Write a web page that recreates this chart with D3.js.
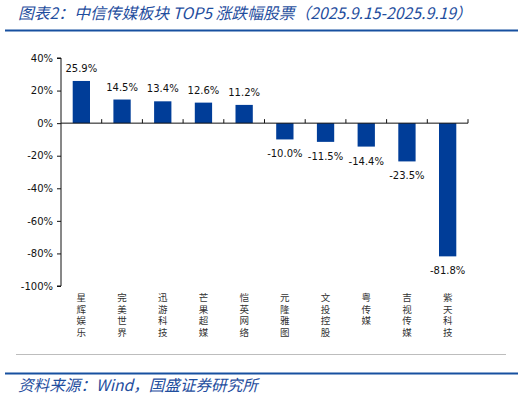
<!DOCTYPE html>
<html>
<head>
<meta charset="utf-8">
<script src="https://cdn.jsdelivr.net/npm/d3@7"></script>
<style>
  body { margin: 0; background: #fff; }
  svg { display: block; }
  .num { font-family: "DejaVu Sans", Verdana, sans-serif; font-size: 10px; fill: #111; }
  .cat { font-family: "Noto Sans CJK SC", sans-serif; font-size: 9.5px; fill: #333; }
  .head { font-family: "Noto Sans CJK SC", sans-serif; font-style: italic; fill: #1f4e9e; }
</style>
</head>
<body>
<script>
var categories = ["星辉娱乐", "完美世界", "迅游科技", "芒果超媒", "恺英网络",
                  "元隆雅图", "文投控股", "粤传媒", "吉视传媒", "紫天科技"];
var values = [25.9, 14.5, 13.4, 12.6, 11.2, -10.0, -11.5, -14.4, -23.5, -81.8];
var yTicks = [40, 20, 0, -20, -40, -60, -80, -100];
var titleText = "图表2：中信传媒板块 TOP5 涨跌幅股票（2025.9.15-2025.9.19）";
var sourceText = "资料来源：Wind，国盛证券研究所";

var W = 526, H = 398;
var plotL = 61, plotR = 468, plotT = 58, plotB = 286;

var svg = d3.select("body").append("svg")
    .attr("width", W)
    .attr("height", H);

// header and footer
svg.append("text")
    .attr("class", "head")
    .attr("x", 18)
    .attr("y", 19)
    .attr("font-size", 15.8)
    .text(titleText);

svg.append("line")
    .attr("x1", 5).attr("x2", 518)
    .attr("y1", 30.5).attr("y2", 30.5)
    .attr("stroke", "#1750a0")
    .attr("stroke-width", 2);

svg.append("line")
    .attr("x1", 16).attr("x2", 506)
    .attr("y1", 354.5).attr("y2", 354.5)
    .attr("stroke", "#bdbdbd")
    .attr("stroke-width", 1);

svg.append("line")
    .attr("x1", 5).attr("x2", 518)
    .attr("y1", 373.5).attr("y2", 373.5)
    .attr("stroke", "#1750a0")
    .attr("stroke-width", 2);

svg.append("text")
    .attr("class", "head")
    .attr("x", 18)
    .attr("y", 391)
    .attr("font-size", 15.6)
    .text(sourceText);

// scales
var x = d3.scaleBand()
    .domain(categories)
    .range([plotL, plotR])
    .paddingInner(0.575)
    .paddingOuter(0.2875);

var y = d3.scaleLinear()
    .domain([-100, 40])
    .range([plotB, plotT]);

var step = x.step();

// bars
svg.selectAll("rect.bar")
    .data(values)
    .enter().append("rect")
    .attr("class", "bar")
    .attr("x", function (d, i) { return x(categories[i]); })
    .attr("width", x.bandwidth())
    .attr("y", function (d) { return y(Math.max(0, d)); })
    .attr("height", function (d) { return Math.abs(y(d) - y(0)); })
    .attr("fill", "#003d98");

// value labels
svg.selectAll("text.val")
    .data(values)
    .enter().append("text")
    .attr("class", "num")
    .attr("text-anchor", "middle")
    .attr("x", function (d, i) { return x(categories[i]) + x.bandwidth() / 2; })
    .attr("y", function (d) { return d >= 0 ? y(d) - 9 : y(d) + 18; })
    .text(function (d) { return d.toFixed(1) + "%"; });

// y axis
var yAxis = d3.axisLeft(y)
    .tickValues(yTicks)
    .tickSize(4)
    .tickPadding(4)
    .tickFormat(function (d) { return d + "%"; });

var gy = svg.append("g")
    .attr("transform", "translate(" + plotL + ",0)")
    .call(yAxis);
gy.select(".domain").attr("stroke", "#111").attr("d", "M-4," + y(40) + "H0V" + y(-100) + "H-4");
gy.selectAll(".tick line").attr("stroke", "#111");
gy.selectAll(".tick text")
    .attr("class", "num")
    .attr("font-family", null)
    .attr("font-size", null);

// x axis at zero with ticks pointing up at category boundaries
var gx = svg.append("g");
gx.append("line")
    .attr("x1", plotL).attr("x2", plotR)
    .attr("y1", y(0)).attr("y2", y(0))
    .attr("stroke", "#111");
gx.selectAll("line.tk")
    .data(categories)
    .enter().append("line")
    .attr("class", "tk")
    .attr("x1", function (d) { return x(d) - step * x.paddingOuter() + step; })
    .attr("x2", function (d) { return x(d) - step * x.paddingOuter() + step; })
    .attr("y1", y(0))
    .attr("y2", y(0) - 4)
    .attr("stroke", "#111");

// vertical category labels, one character per line
var cg = svg.selectAll("g.catg")
    .data(categories)
    .enter().append("g")
    .attr("class", "catg")
    .attr("transform", function (d) {
        return "translate(" + (x(d) + x.bandwidth() / 2) + ",301)";
    });

cg.selectAll("text")
    .data(function (d) { return d.split(""); })
    .enter().append("text")
    .attr("class", "cat")
    .attr("text-anchor", "middle")
    .attr("y", function (c, j) { return j * 11.5; })
    .text(function (c) { return c; });
</script>
</body>
</html>
